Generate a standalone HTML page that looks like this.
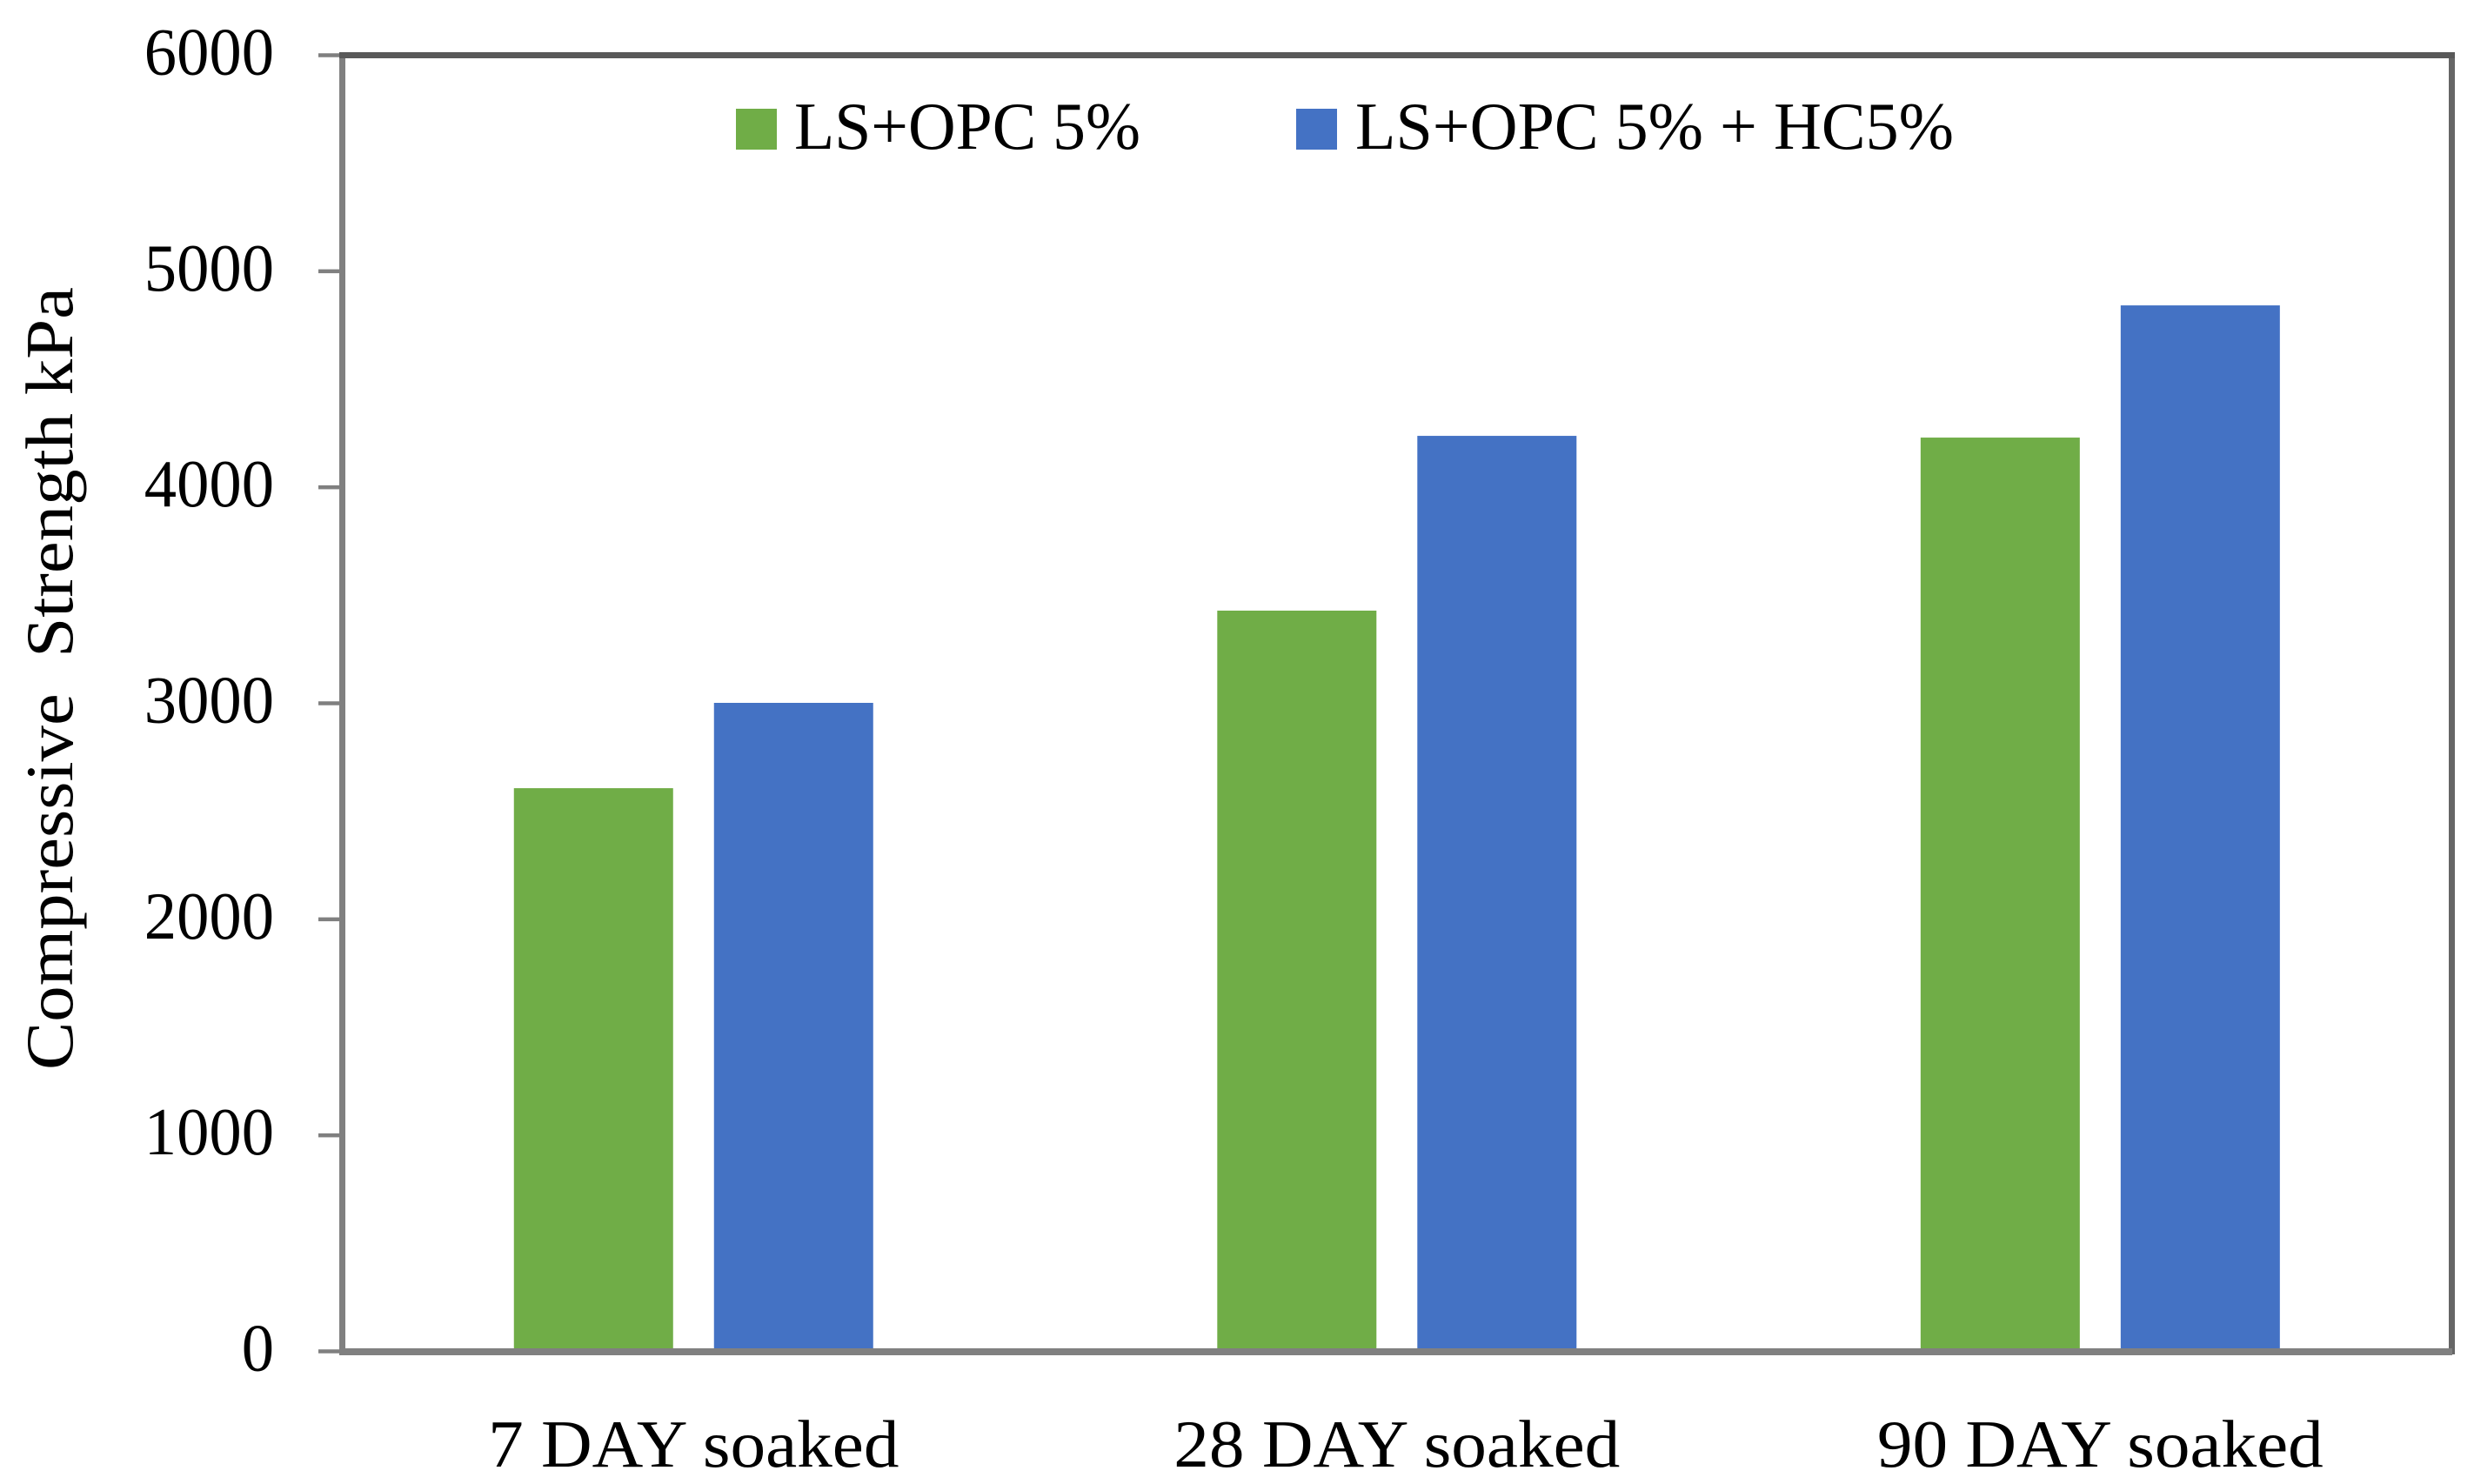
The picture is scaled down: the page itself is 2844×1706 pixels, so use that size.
<!DOCTYPE html>
<html lang="en">
<head>
<meta charset="utf-8">
<title>Compressive Strength Chart</title>
<style>
html,body{margin:0;padding:0;background:#fff;width:2844px;height:1706px;overflow:hidden}
svg{display:block}
text{font-family:"Liberation Serif",serif;fill:#000;font-size:77px}
</style>
</head>
<body>
<svg id="chart" xmlns="http://www.w3.org/2000/svg" width="2844" height="1706" viewBox="0 0 2844 1706">
  <rect x="0" y="0" width="2844" height="1706" fill="#ffffff"/>
  <g id="bars"></g>
  <g id="ticks"></g>
  <rect x="390" y="60" width="7" height="1497" fill="#808080"/>
  <rect x="2815" y="60" width="7" height="1497" fill="#666666"/>
  <rect x="390" y="60" width="2432" height="7" fill="#595959"/>
  <rect x="390" y="1550" width="2429" height="8" fill="#808080"/>
  <g id="y-labels"></g>
  <g id="x-labels"></g>
  <text transform="translate(83,1230) rotate(-90)" textLength="900" lengthAdjust="spacingAndGlyphs" xml:space="preserve" style="white-space:pre">Compressive  Strength kPa</text>
  <g>
    <g>
      <rect x="846" y="125" width="47" height="47" fill="#70AD47"/>
      <text x="913" y="171" textLength="398" lengthAdjust="spacingAndGlyphs">LS+OPC 5%</text>
    </g>
    <g>
      <rect x="1490" y="125" width="47" height="47" fill="#4472C4"/>
      <text x="1558" y="171" textLength="688" lengthAdjust="spacingAndGlyphs">LS+OPC 5% + HC5%</text>
    </g>
  </g>
</svg>
<script>
const categories = ["7 DAY soaked", "28 DAY soaked", "90 DAY soaked"];
const seriesOpc = [2607, 3429, 4230];
const seriesOpcHc = [3002, 4238, 4842];
const yTickValues = [0, 1000, 2000, 3000, 4000, 5000, 6000];

const NS = 'http://www.w3.org/2000/svg';
const plotLeft = 393, plotRight = 2818.6, plotTop = 63.5, plotBottom = 1553.5;
const barBase = 1550, barWidth = 183, barGap = 47;
const yMax = 6000;
function yScale(v) { return plotBottom - (v / yMax) * (plotBottom - plotTop); }
function bandCenter(i) { return plotLeft + (i + 0.5) * (plotRight - plotLeft) / categories.length; }

const barsGroup = document.getElementById('bars');
function drawBar(value, x, fill, name) {
  const r = document.createElementNS(NS, 'rect');
  r.setAttribute('x', x);
  r.setAttribute('y', yScale(value));
  r.setAttribute('width', barWidth);
  r.setAttribute('height', barBase - yScale(value));
  r.setAttribute('fill', fill);
  
  
  barsGroup.appendChild(r);
}
categories.forEach(function (c, i) {
  const cx = bandCenter(i);
  drawBar(seriesOpc[i], cx - barGap / 2 - barWidth, '#70AD47', 'bar-ls-opc-' + (i + 1));
  drawBar(seriesOpcHc[i], cx + barGap / 2, '#4472C4', 'bar-ls-opc-hc-' + (i + 1));
});

const tickGroup = document.getElementById('ticks');
const yLabelGroup = document.getElementById('y-labels');
yTickValues.forEach(function (v) {
  const t = document.createElementNS(NS, 'rect');
  t.setAttribute('x', 366);
  t.setAttribute('y', yScale(v) - 2.25);
  t.setAttribute('width', 26);
  t.setAttribute('height', 4.5);
  t.setAttribute('fill', '#808080');
  
  
  tickGroup.appendChild(t);

  const l = document.createElementNS(NS, 'text');
  l.setAttribute('x', 315);
  l.setAttribute('y', yScale(v) + 22);
  l.setAttribute('text-anchor', 'end');
  l.textContent = String(v);
  
  
  yLabelGroup.appendChild(l);
  l.setAttribute('textLength', String(v).length * 37.3);
  l.setAttribute('lengthAdjust', 'spacingAndGlyphs');
});

const xLabelGroup = document.getElementById('x-labels');
categories.forEach(function (c, i) {
  const l = document.createElementNS(NS, 'text');
  l.setAttribute('x', bandCenter(i));
  l.setAttribute('y', 1686);
  l.setAttribute('text-anchor', 'middle');
  l.textContent = c;
  
  
  xLabelGroup.appendChild(l);
  l.setAttribute('textLength', l.getComputedTextLength() * 1.055);
  l.setAttribute('lengthAdjust', 'spacingAndGlyphs');
});
</script>
</body>
</html>
